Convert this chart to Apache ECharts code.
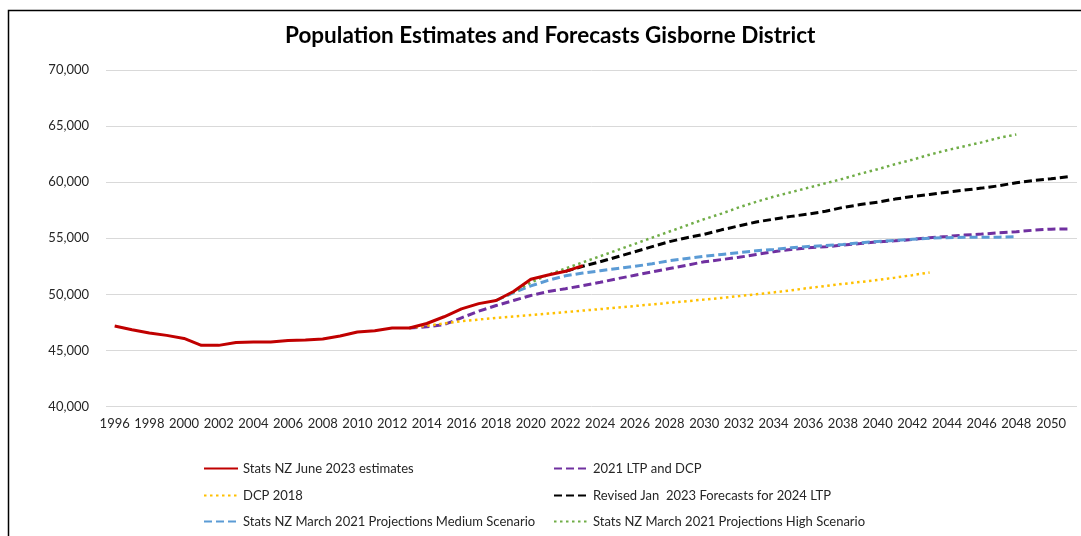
<!DOCTYPE html>
<html>
<head>
<meta charset="utf-8">
<script src="https://cdn.jsdelivr.net/npm/echarts@6/dist/echarts.min.js"></script>
<style>
html,body{margin:0;padding:0;background:#fff;}
#chart{width:1081px;height:536px;}
</style>
</head>
<body>
<div id="chart"></div>
<script>
// Categories (years)
var firstYear = 1996;
var lastYear = 2051;
var yTicks = [40000, 45000, 50000, 55000, 60000, 65000, 70000];

// Series values (each with its start year)
var estimatesStart = 1996;
var estimates = [47180, 46850, 46550, 46340, 46070, 45450, 45450, 45710, 45740, 45740,
  45890, 45920, 46010, 46280, 46640, 46760, 47000, 47000, 47400, 48000,
  48700, 49170, 49450, 50250, 51350, 51720, 52050, 52560];

var ltp2021Start = 2013;
var ltp2021 = [47000, 47100, 47300, 47900, 48500, 49000, 49450, 49900, 50250, 50500,
  50780, 51070, 51400, 51700, 52000, 52300, 52600, 52900, 53100, 53300,
  53550, 53800, 54000, 54150, 54240, 54390, 54530, 54680, 54770, 54890,
  55050, 55160, 55280, 55370, 55490, 55580, 55720, 55810, 55830];

var dcp2018Start = 2013;
var dcp2018 = [47000, 47200, 47400, 47600, 47750, 47900, 48030, 48160, 48290, 48420,
  48550, 48680, 48820, 48960, 49100, 49250, 49390, 49530, 49680, 49840,
  50000, 50170, 50360, 50560, 50750, 50930, 51100, 51280, 51490, 51710, 51950];

var revised2023Start = 2022;
var revised2023 = [52050, 52500, 52900, 53350, 53800, 54250, 54700, 55050, 55350, 55750,
  56100, 56450, 56700, 56950, 57150, 57400, 57750, 58000, 58220, 58490,
  58730, 58900, 59110, 59290, 59470, 59680, 59950, 60150, 60300, 60480];

var medium2021Start = 2018;
var medium2021 = [49450, 50150, 50750, 51250, 51650, 51900, 52100, 52300, 52500, 52720,
  53000, 53200, 53400, 53560, 53720, 53880, 54000, 54150, 54270, 54350,
  54450, 54590, 54710, 54800, 54900, 55000, 55050, 55080, 55100, 55100, 55130];

var high2021Start = 2018;
var high2021 = [49450, 50200, 51050, 51750, 52300, 52850, 53400, 53950, 54500, 55050,
  55600, 56150, 56700, 57200, 57750, 58250, 58700, 59100, 59500, 59900,
  60300, 60750, 61150, 61600, 62000, 62450, 62850, 63200, 63550, 63950, 64250];

var names = [
  'Stats NZ June 2023 estimates',
  '2021 LTP and DCP',
  'DCP 2018',
  'Revised Jan  2023 Forecasts for 2024 LTP',
  'Stats NZ March 2021 Projections Medium Scenario',
  'Stats NZ March 2021 Projections High Scenario'
];

// Build the category list and padded series
var categories = [];
for (var y = firstYear; y <= lastYear; y++) categories.push(String(y));
function pad(start, vals) {
  var out = [];
  for (var i = 0; i < categories.length; i++) {
    var idx = (firstYear + i) - start;
    out.push(idx >= 0 && idx < vals.length ? vals[idx] : null);
  }
  return out;
}

var FONT = 'Lato';
var dash = [8, 4];
var dot = [2.5, 3.5];

function lineSeries(name, data, color, width, type, z) {
  return {
    name: name, type: 'line', data: data, showSymbol: false, symbol: 'none',
    connectNulls: false, z: z || 2, smooth: false,
    lineStyle: { color: color, width: width, type: type, cap: 'butt' },
    itemStyle: { color: color },
    emphasis: { disabled: true }
  };
}

function legendAt(name, left, top) {
  return {
    data: [name], left: left, top: top, padding: 0,
    itemWidth: 34, itemHeight: 12, itemGap: 0,
    itemStyle: { opacity: 0 },
    textStyle: { fontFamily: FONT, fontSize: 13, color: '#262626' },
    selectedMode: false
  };
}

var chart = echarts.init(document.getElementById('chart'), null, { renderer: 'canvas' });
chart.setOption({
  animation: false,
  backgroundColor: '#ffffff',
  title: {
    text: 'Population Estimates and Forecasts Gisborne District',
    left: 285, top: 24, padding: 0,
    textStyle: { fontFamily: FONT, fontSize: 22.5, fontWeight: 'bold', color: '#000000' }
  },
  graphic: [{
    type: 'rect', silent: true, z: -1,
    shape: { x: 8.5, y: 10.5, width: 1200, height: 700 },
    style: { fill: 'none', stroke: '#000000', lineWidth: 1.5 }
  }],
  legend: [
    legendAt(names[0], 203, 462),
    legendAt(names[1], 553, 462),
    legendAt(names[2], 203, 489),
    legendAt(names[3], 553, 489),
    legendAt(names[4], 203, 515),
    legendAt(names[5], 553, 515)
  ],
  grid: { left: 106, right: 4, top: 70, bottom: 129.5, containLabel: false },
  xAxis: {
    type: 'category', data: categories, boundaryGap: true,
    axisLine: { show: false }, axisTick: { show: false },
    axisLabel: { interval: 1, margin: 11, fontFamily: FONT, fontSize: 13, color: '#262626' },
    splitLine: { show: false }
  },
  yAxis: {
    type: 'value', min: yTicks[0], max: yTicks[yTicks.length - 1], interval: yTicks[1] - yTicks[0],
    axisLine: { show: false }, axisTick: { show: false },
    axisLabel: {
      margin: 17, fontFamily: FONT, fontSize: 13, color: '#262626',
      formatter: function (v) { return v.toLocaleString('en-US'); }
    },
    splitLine: { lineStyle: { color: '#d9d9d9', width: 1 } }
  },
  series: [
    lineSeries(names[1], pad(ltp2021Start, ltp2021), '#7030A0', 3, dash, 2),
    lineSeries(names[2], pad(dcp2018Start, dcp2018), '#FFC000', 2.5, dot, 2),
    lineSeries(names[3], pad(revised2023Start, revised2023), '#000000', 3, dash, 2),
    lineSeries(names[4], pad(medium2021Start, medium2021), '#5B9BD5', 3, dash, 2),
    lineSeries(names[5], pad(high2021Start, high2021), '#70AD47', 2.5, dot, 2),
    lineSeries(names[0], pad(estimatesStart, estimates), '#C00000', 3, 'solid', 3)
  ]
});
</script>
</body>
</html>
